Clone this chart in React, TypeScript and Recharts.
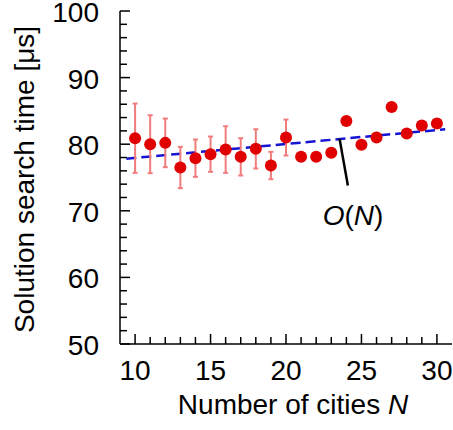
import React from 'react';
import {
  ComposedChart,
  XAxis,
  YAxis,
  Scatter,
  Line,
  ErrorBar,
  ReferenceLine,
  ReferenceDot,
} from 'recharts';

// ---- data ----
const cities = [10, 11, 12, 13, 14, 15, 16, 17, 18, 19, 20, 21, 22, 23, 24, 25, 26, 27, 28, 29, 30];
const times = [80.9, 80.0, 80.2, 76.5, 77.9, 78.5, 79.2, 78.1, 79.3, 76.8, 81.0, 78.1, 78.1, 78.7, 83.5, 79.9, 81.0, 85.6, 81.6, 82.8, 83.1];
const errors: (number | null)[] = [5.2, 4.35, 3.65, 3.1, 2.8, 2.65, 3.5, 2.8, 2.95, 2.05, 2.7, null, null, null, null, null, null, null, null, null, null];

const fitCities = [9.42, 30.55];
const fitTimes = [77.82, 82.24];

const annotationCities = [23.55, 24.1];
const annotationTimes = [80.8, 73.8];
const annotationLabelCity = 24.44;
const annotationLabelTime = 67.9;

const xTicks = [10, 11, 12, 13, 14, 15, 16, 17, 18, 19, 20, 21, 22, 23, 24, 25, 26, 27, 28, 29, 30];
const yTicks = [50, 52, 54, 56, 58, 60, 62, 64, 66, 68, 70, 72, 74, 76, 78, 80, 82, 84, 86, 88, 90, 92, 94, 96, 98, 100];

const xDomain = [9, 31];
const yDomain = [50, 100];

const scatterData = cities.map((n, i) => ({ n, t: times[i], err: errors[i] }));
const fitData = fitCities.map((n, i) => ({ n, t: fitTimes[i] }));

// ---- styles ----
const FONT = '"Liberation Sans", Arial, Helvetica, sans-serif';
const FS = 28;
const RED = '#e00000';
const ERR = '#f07c7c';
const BLUE = '#1414d2';

const BottomTick = (props: any) => {
  const { x, y, payload } = props;
  const major = payload.value % 5 === 0;
  return (
    <g>
      <line x1={x} x2={x} y1={y} y2={y - (major ? 10 : 7)} stroke="#000" strokeWidth={1.5} />
      {major && (
        <text x={x} y={y + 36} textAnchor="middle" fontSize={FS} fontFamily={FONT} fill="#000">
          {payload.value}
        </text>
      )}
    </g>
  );
};

const TopTick = (props: any) => {
  const { x, y, payload } = props;
  const major = payload.value % 5 === 0;
  return <line x1={x} x2={x} y1={y} y2={y + (major ? 10 : 7)} stroke="#000" strokeWidth={1.5} />;
};

const LeftTick = (props: any) => {
  const { x, y, payload } = props;
  const major = payload.value % 10 === 0;
  return (
    <g>
      <line x1={x} x2={x + (major ? 10 : 7)} y1={y} y2={y} stroke="#000" strokeWidth={1.5} />
      {major && (
        <text x={x - 21} y={y + 11} textAnchor="end" fontSize={FS} fontFamily={FONT} fill="#000">
          {payload.value}
        </text>
      )}
    </g>
  );
};

const RightTick = (props: any) => {
  const { x, y, payload } = props;
  const major = payload.value % 10 === 0;
  return <line x1={x} x2={x - (major ? 10 : 7)} y1={y} y2={y} stroke="#000" strokeWidth={1.5} />;
};

const XTitle = (props: any) => {
  const vb = props.viewBox || { x: 120, y: 344, width: 332, height: 86 };
  return (
    <text x={vb.x + vb.width / 2 + 7} y={vb.y + 69.5} textAnchor="middle" fontSize={FS} fontFamily={FONT} fill="#000">
      Number of cities <tspan fontStyle="italic">N</tspan>
    </text>
  );
};

const YTitle = (props: any) => {
  const vb = props.viewBox || { x: 0, y: 11, width: 120, height: 333 };
  const cx = vb.x + 34;
  const cy = vb.y + vb.height / 2 + 2;
  return (
    <text
      transform={`translate(${cx}, ${cy}) rotate(-90)`}
      textAnchor="middle"
      fontSize={FS}
      fontFamily={FONT}
      fill="#000"
    >
      Solution search time [μs]
    </text>
  );
};

const Marker = (props: any) => <circle cx={props.cx} cy={props.cy} r={6} fill={RED} />;

const ONLabel = (props: any) => (
  <text x={props.cx} y={props.cy} textAnchor="middle" fontSize={FS} fontFamily={FONT} fill="#000">
    <tspan fontStyle="italic">O</tspan>(<tspan fontStyle="italic">N</tspan>)
  </text>
);

export default function App() {
  const axisLine = { stroke: '#000', strokeWidth: 1.5 };
  return (
    <div style={{ position: 'absolute', left: 0, top: 0, background: '#fff' }}>
      <ComposedChart width={453} height={430} margin={{ top: 11, right: 1, left: 0, bottom: 0 }}>
        <XAxis
          xAxisId="b"
          dataKey="n"
          type="number"
          domain={xDomain}
          ticks={xTicks}
          interval={0}
          allowDataOverflow
          height={86}
          tickSize={0}
          tickMargin={0}
          tickLine={false}
          axisLine={axisLine}
          tick={<BottomTick />}
          label={XTitle}
        />
        <XAxis
          xAxisId="t"
          orientation="top"
          dataKey="n"
          type="number"
          domain={xDomain}
          ticks={xTicks}
          interval={0}
          allowDataOverflow
          height={0}
          tickSize={0}
          tickMargin={0}
          tickLine={false}
          axisLine={axisLine}
          tick={<TopTick />}
        />
        <YAxis
          yAxisId="l"
          type="number"
          domain={yDomain}
          ticks={yTicks}
          interval={0}
          allowDataOverflow
          width={120}
          tickSize={0}
          tickMargin={0}
          tickLine={false}
          axisLine={axisLine}
          tick={<LeftTick />}
          label={YTitle}
        />
        <YAxis
          yAxisId="r"
          orientation="right"
          type="number"
          domain={yDomain}
          ticks={yTicks}
          interval={0}
          allowDataOverflow
          width={0}
          tickSize={0}
          tickMargin={0}
          tickLine={false}
          axisLine={axisLine}
          tick={<RightTick />}
        />
        <Line
          xAxisId="b"
          yAxisId="l"
          data={fitData}
          dataKey="t"
          type="linear"
          stroke={BLUE}
          strokeWidth={2.5}
          strokeDasharray="10 5"
          dot={false}
          activeDot={false}
          isAnimationActive={false}
        />
        <ReferenceLine
          xAxisId="b"
          yAxisId="l"
          segment={[
            { x: annotationCities[0], y: annotationTimes[0] },
            { x: annotationCities[1], y: annotationTimes[1] },
          ]}
          stroke="#000"
          strokeWidth={2.5}
          ifOverflow="visible"
        />
        <Scatter
          xAxisId="b"
          yAxisId="l"
          data={scatterData}
          dataKey="t"
          shape={Marker}
          isAnimationActive={false}
        >
          <ErrorBar dataKey="err" direction="y" width={2.5} stroke={ERR} strokeWidth={2} isAnimationActive={false} />
        </Scatter>
        <ReferenceDot
          xAxisId="b"
          yAxisId="l"
          x={annotationLabelCity}
          y={annotationLabelTime}
          r={0}
          shape={ONLabel}
          ifOverflow="visible"
        />
      </ComposedChart>
    </div>
  );
}
